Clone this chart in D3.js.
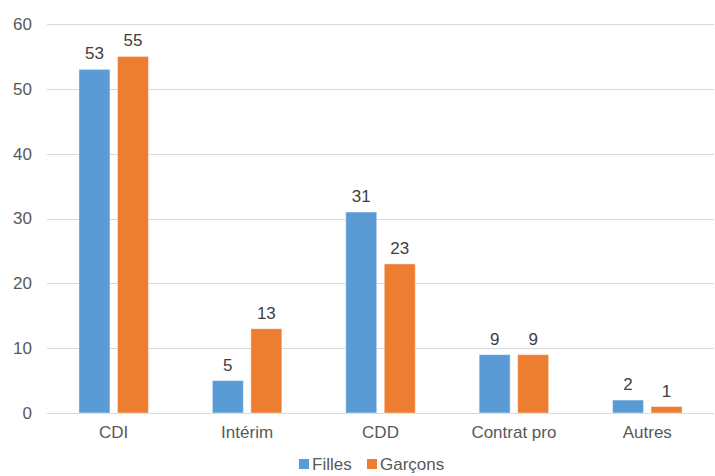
<!DOCTYPE html>
<html>
<head>
<meta charset="utf-8">
<script src="https://cdn.jsdelivr.net/npm/d3@7/dist/d3.min.js"></script>
<style>
  html, body { margin: 0; padding: 0; background: #fff; }
  svg { display: block; font-family: "Liberation Sans", Arial, sans-serif; }
</style>
</head>
<body>
<svg id="chart" width="715" height="476"></svg>
<script>
// Contract types and counts per group
const categories = ["CDI", "Intérim", "CDD", "Contrat pro", "Autres"];
const filles = [53, 5, 31, 9, 2];
const garcons = [55, 13, 23, 9, 1];
const seriesNames = ["Filles", "Garçons"];
const yTicks = [0, 10, 20, 30, 40, 50, 60];

const colors = ["#5B9BD5", "#ED7D31"];
const series = [filles, garcons];
const FONT = "17px";

const svg = d3.select("#chart");
const margin = { left: 47, right: 1, top: 24, bottom: 63 };
const W = 715, H = 476;

const x = d3.scaleBand()
  .domain(categories)
  .range([margin.left, W - margin.right])
  .paddingInner(0)
  .paddingOuter(0);

const y = d3.scaleLinear()
  .domain([0, 60])
  .range([H - margin.bottom, margin.top]);

const barW = 31, gap = 7.5;

// gridlines
svg.append("g")
  .selectAll("line")
  .data(yTicks)
  .join("line")
  .attr("x1", margin.left)
  .attr("x2", W - margin.right)
  .attr("y1", d => Math.round(y(d)) + 0.5)
  .attr("y2", d => Math.round(y(d)) + 0.5)
  .attr("stroke", "#d9d9d9")
  .attr("stroke-width", 1);

// y axis labels
const yAxis = d3.axisLeft(y).tickValues(yTicks).tickSize(0).tickPadding(0);
const gy = svg.append("g")
  .attr("transform", `translate(${margin.left - 15},0)`)
  .call(yAxis);
gy.select(".domain").remove();
gy.selectAll("text")
  .attr("fill", "#595959")
  .attr("font-size", FONT)
  .attr("font-family", "Liberation Sans, Arial, sans-serif");

// x axis labels
const xAxis = d3.axisBottom(x).tickSize(0).tickPadding(0);
const gx = svg.append("g")
  .attr("transform", `translate(0,${H - margin.bottom + 13})`)
  .call(xAxis);
gx.select(".domain").remove();
gx.selectAll("text")
  .attr("fill", "#595959")
  .attr("font-size", FONT)
  .attr("font-family", "Liberation Sans, Arial, sans-serif");

// bars
series.forEach((vals, si) => {
  const offset = si === 0 ? -(gap / 2 + barW) : gap / 2;
  const g = svg.append("g");
  g.selectAll("rect")
    .data(vals)
    .join("rect")
    .attr("x", (d, i) => x(categories[i]) + x.bandwidth() / 2 + offset)
    .attr("y", d => y(d))
    .attr("width", barW)
    .attr("height", d => y(0) - y(d))
    .attr("fill", colors[si])
    .attr("stroke", "#ffffff")
    .attr("stroke-opacity", 0.45)
    .attr("stroke-width", 1);
  g.selectAll("text")
    .data(vals)
    .join("text")
    .attr("x", (d, i) => x(categories[i]) + x.bandwidth() / 2 + offset + barW / 2)
    .attr("y", d => y(d) - 10)
    .attr("text-anchor", "middle")
    .attr("fill", "#404040")
    .attr("font-size", FONT)
    .text(d => d);
});

// legend
const legend = svg.append("g").attr("transform", "translate(299,459)");
const items = [{ x: 0, name: seriesNames[0], c: colors[0] }, { x: 68, name: seriesNames[1], c: colors[1] }];
items.forEach(it => {
  legend.append("rect")
    .attr("x", it.x).attr("y", 0)
    .attr("width", 10).attr("height", 10)
    .attr("fill", it.c);
  legend.append("text")
    .attr("x", it.x + 13).attr("y", 11)
    .attr("fill", "#595959")
    .attr("font-size", FONT)
    .text(it.name);
});
</script>
</body>
</html>
